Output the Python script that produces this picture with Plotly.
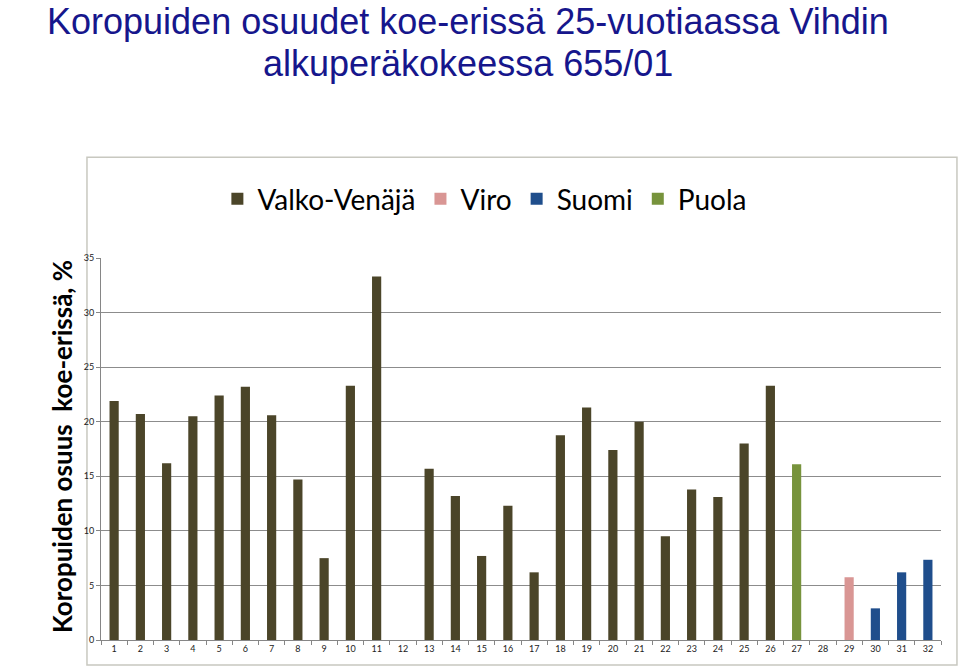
import plotly.graph_objects as go

categories = [str(i) for i in range(1, 33)]

vv_x = ["1","2","3","4","5","6","7","8","9","10","11","13","14","15","16","17",
        "18","19","20","21","22","23","24","25","26"]
vv_y = [21.9, 20.7, 16.2, 20.5, 22.4, 23.2, 20.6, 14.7, 7.5, 23.3, 33.3, 15.7,
        13.2, 7.7, 12.3, 6.2, 18.75, 21.3, 17.4, 20.0, 9.5, 13.8, 13.1, 18.0, 23.3]
viro_x = ["29"]
viro_y = [5.75]
suomi_x = ["30", "31", "32"]
suomi_y = [2.9, 6.2, 7.35]
puola_x = ["27"]
puola_y = [16.1]

title_lines = ["Koropuiden osuudet koe-erissä 25-vuotiaassa Vihdin",
               "alkuperäkokeessa 655/01"]
y_title = "<b>Koropuiden osuus  koe-erissä, %</b>"

series = [
    ("Valko-Venäjä", vv_x, vv_y, "#4B4529"),
    ("Viro", viro_x, viro_y, "#D99694"),
    ("Suomi", suomi_x, suomi_y, "#1F4E8C"),
    ("Puola", puola_x, puola_y, "#77933C"),
]

fig = go.Figure()
for name, xs, ys, col in series:
    fig.add_trace(go.Bar(x=xs, y=ys, name=name, marker_color=col,
                         marker_line_width=0, width=0.35))

fig.update_layout(
    width=960, height=669,
    margin=dict(l=101, r=19, t=258, b=29),
    paper_bgcolor="white", plot_bgcolor="white",
    barmode="overlay",
    showlegend=True,
    legend=dict(
        orientation="h", x=0.457, xanchor="center", y=1.154, yanchor="middle",
        font=dict(family="Lato, Carlito, sans-serif", size=28, color="black"),
        bgcolor="rgba(0,0,0,0)", itemsizing="constant",
    ),
    font=dict(family="Lato, sans-serif"),
)

for txt, yy in zip(title_lines, [1.620, 1.508]):
    fig.add_annotation(text=txt, xref="paper", yref="paper", x=0.437, y=yy,
                       xanchor="center", yanchor="middle", showarrow=False,
                       font=dict(family="Liberation Sans, Arial", size=36, color="#16168C"))

fig.add_annotation(text=y_title, xref="paper", yref="paper", x=-0.0464, y=0.505,
                   xanchor="center", yanchor="middle", textangle=-90, showarrow=False,
                   font=dict(family="Lato, sans-serif", size=26, color="black"))

fig.update_xaxes(
    type="category", categoryorder="array", categoryarray=categories,
    tickson="boundaries", ticks="outside", ticklen=4, tickcolor="#868686",
    showline=True, linecolor="#868686", linewidth=1,
    showgrid=False,
    tickfont=dict(family="Lato, sans-serif", size=9, color="#222"),
    range=[-0.5, 31.5],
)
fig.update_yaxes(
    range=[0, 35], dtick=5, tick0=0,
    showgrid=True, gridcolor="#8C8C8C", gridwidth=1,
    showline=True, linecolor="#868686", linewidth=1,
    ticks="outside", ticklen=4, tickcolor="#868686",
    tickfont=dict(family="Lato, sans-serif", size=9, color="#222"),
    zeroline=False,
)

# chart area border
fig.add_shape(type="rect", xref="paper", yref="paper",
              x0=-0.0167, x1=1.019, y0=-0.0654, y1=1.264,
              line=dict(color="#C8C8C0", width=1.5), fillcolor="rgba(0,0,0,0)",
              layer="below")

fig.write_html("out.html")
